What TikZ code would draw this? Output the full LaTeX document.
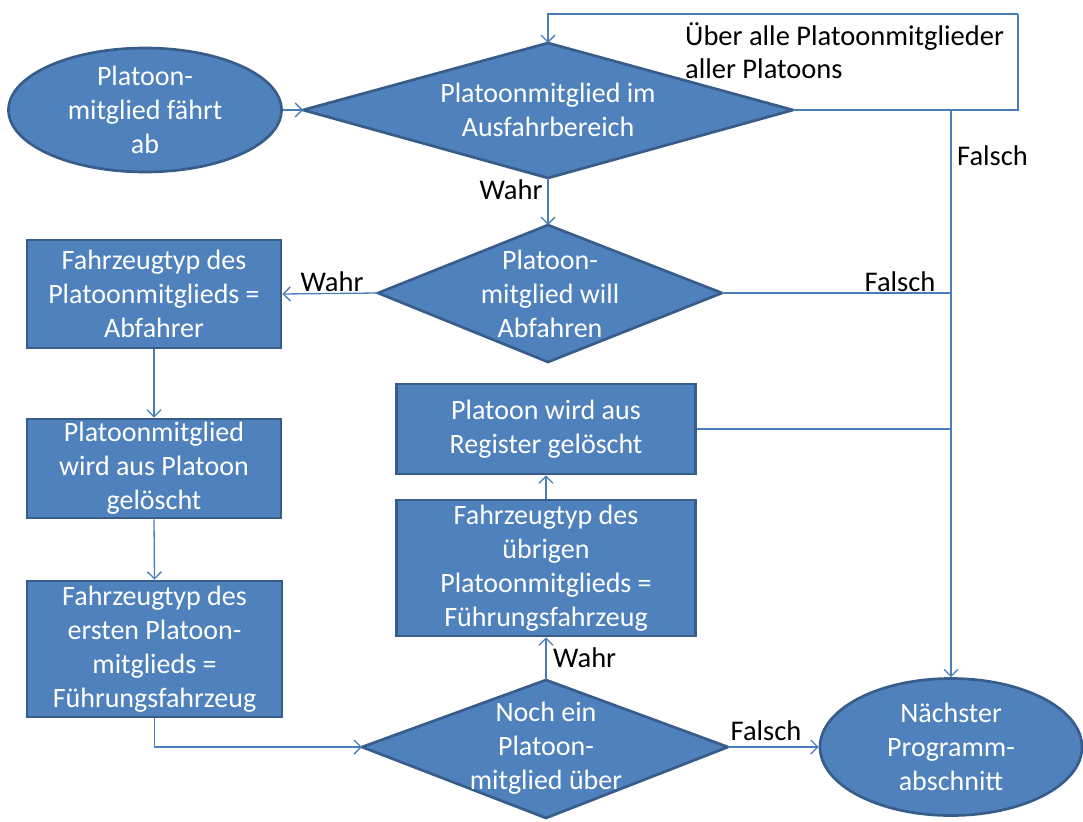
\documentclass[tikz,border=0pt]{standalone}
\usepackage{fontspec}
\setmainfont{Carlito}
\usetikzlibrary{shapes.geometric,arrows.meta}
\definecolor{boxfill}{HTML}{4F81BD}
\definecolor{boxline}{HTML}{385D8A}
\definecolor{linkblue}{HTML}{4A7EBB}

\begin{document}
\begin{tikzpicture}[x=1pt,y=-1pt,
  every node/.style={font=\fontsize{28}{34}\selectfont},
  proc/.style={rectangle, draw=boxline, fill=boxfill, line width=2.7pt,
    text=white, align=center, inner sep=0pt},
  term/.style={ellipse, draw=boxline, fill=boxfill, line width=2.7pt,
    text=white, align=center, inner sep=0pt},
  decis/.style={draw=boxline, fill=boxfill, line width=2.7pt, line join=miter},
  dtext/.style={text=white, align=center, inner sep=0pt},
  lbl/.style={text=black, inner sep=0pt, font=\fontsize{28.5}{33}\selectfont},
  link/.style={draw=linkblue, line width=1.3pt,
    -{Straight Barb[length=7pt,width=14pt]}},
  wire/.style={draw=linkblue, line width=1.3pt},
]
\useasboundingbox (0,0) rectangle (1083,821);

% start and end terminals
\node[term, minimum width=273pt, minimum height=117pt] (start) at (145,110)
  {Platoon-\\mitglied fährt\\ab};
\node[term, minimum width=262pt, minimum height=137pt] (next) at (951,747)
  {Nächster\\Programm-\\abschnitt};

% decision 1
\coordinate (d1w) at (303,110);
\coordinate (d1n) at (548,43);
\coordinate (d1e) at (793,110);
\coordinate (d1s) at (548,178);
\draw[decis] (d1w) -- (d1n) -- (d1e) -- (d1s) -- cycle;
\node[dtext] (d1) at (548,110) {Platoonmitglied im\\Ausfahrbereich};

% decision 2
\coordinate (d2w) at (378,293);
\coordinate (d2n) at (548,225);
\coordinate (d2e) at (722,293);
\coordinate (d2s) at (548,362);
\draw[decis] (d2w) -- (d2n) -- (d2e) -- (d2s) -- cycle;
\node[dtext] (d2) at (550,294) {Platoon-\\mitglied will\\Abfahren};

% decision 3
\coordinate (d3w) at (362,747);
\coordinate (d3n) at (546,680);
\coordinate (d3e) at (728,747);
\coordinate (d3s) at (546,818);
\draw[decis] (d3w) -- (d3n) -- (d3e) -- (d3s) -- cycle;
\node[dtext] (d3) at (546,748) {Noch ein\\Platoon-\\mitglied über};

% process boxes
\node[proc, minimum width=254pt, minimum height=108pt] (b1) at (154,294)
  {Fahrzeugtyp des\\Platoonmitglieds =\\Abfahrer};
\node[proc, minimum width=254pt, minimum height=99pt] (b2) at (154,468.5)
  {Platoonmitglied\\wird aus Platoon\\gelöscht};
\node[proc, minimum width=255pt, minimum height=136pt] (b3) at (154.5,649)
  {Fahrzeugtyp des\\ersten Platoon-\\mitglieds =\\Führungsfahrzeug};
\node[proc, minimum width=299pt, minimum height=90pt] (b4) at (546,429)
  {Platoon wird aus\\Register gelöscht};
\node[proc, minimum width=299pt, minimum height=136pt] (b5) at (546,568)
  {Fahrzeugtyp des\\übrigen\\Platoonmitglieds =\\Führungsfahrzeug};

% loop and collector line
\coordinate (loopne) at (1018,14);
\coordinate (fjoin) at (951,110);
\draw[wire] (d1e) -| (loopne);
\draw[link] (loopne) -| (d1n);
\draw[link] (fjoin) -- (next.north);

% connectors
\draw[link] (start.east) -- (d1w);
\draw[link] (d1s) -- (d2n);
\draw[link] (d2w) -- (b1.east);
\draw[wire] (d2e) -- (fjoin |- d2e);
\draw[link] (b1.south) -- (b2.north);
\draw[link] (b2.south) -- (b3.north);
\draw[link] (b3.south) |- (d3w);
\draw[link] (d3n) -- (b5.south);
\draw[link] (b5.north) -- (b4.south);
\draw[wire] (b4.east) -- (fjoin |- b4.east);
\draw[link] (d3e) -- (next.west);

% labels
\node[lbl, anchor=west, align=left] (loopnote) at (685,51)
  {Über alle Platoonmitglieder\\aller Platoons};
\node[lbl, anchor=west] (f1) at (957,156) {Falsch};
\node[lbl] (w1) at (511,190) {Wahr};
\node[lbl] (w2) at (332,282) {Wahr};
\node[lbl] (f2) at (900,282) {Falsch};
\node[lbl, anchor=west] (w3) at (553,658) {Wahr};
\node[lbl] (f3) at (766,731) {Falsch};
\end{tikzpicture}
\end{document}
